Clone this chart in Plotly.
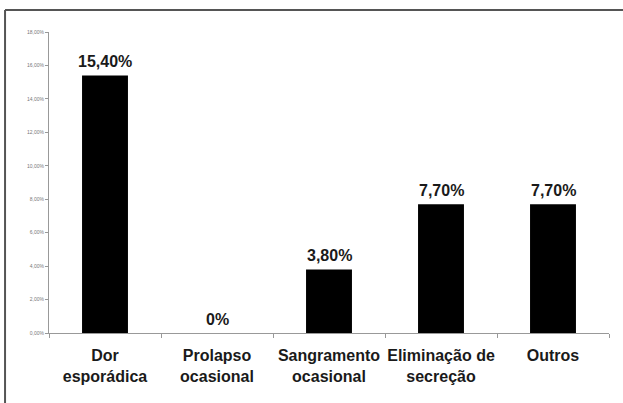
import plotly.graph_objects as go

categories = ["Dor<br>esporádica", "Prolapso<br>ocasional", "Sangramento<br>ocasional",
              "Eliminação de<br>secreção", "Outros"]
values = [15.4, 0.0, 3.8, 7.7, 7.7]
labels = ["15,40%", "0%", "3,80%", "7,70%", "7,70%"]
tick_vals = [0, 2, 4, 6, 8, 10, 12, 14, 16, 18]
tick_text = [f"{v:.2f}%".replace(".", ",") for v in tick_vals]

FONT = "Arial, Liberation Sans, sans-serif"
FRAME = dict(color="#555555", width=2)

fig = go.Figure(go.Bar(
    x=categories, y=values, marker=dict(color="#000000", line=dict(width=0)),
))

# value labels above the bars
for cat, val, lab in zip(categories, values, labels):
    fig.add_annotation(x=cat, y=val, text=lab, showarrow=False,
                       yanchor="bottom", yshift=3,
                       font=dict(size=16, color="#1a1a1a", family=FONT, weight="bold"))

fig.update_layout(
    width=623, height=403,
    paper_bgcolor="white", plot_bgcolor="white",
    margin=dict(l=49, r=14, t=32, b=70, autoexpand=False),
    showlegend=False, bargap=0.59,
    font=dict(family=FONT, color="#1a1a1a"),
    xaxis=dict(
        showgrid=False, showline=True, linecolor="#999999", linewidth=1,
        ticks="outside", tickson="boundaries", ticklen=4, tickcolor="#999999",
        tickangle=0, automargin=False,
        tickfont=dict(size=16, color="#1a1a1a", weight="bold"), ticklabelstandoff=8,
    ),
    yaxis=dict(
        range=[0, 18], tickvals=tick_vals, ticktext=tick_text,
        showgrid=False, showline=True, linecolor="#999999", linewidth=1,
        ticks="outside", ticklen=3, tickcolor="#999999", automargin=False,
        tickfont=dict(size=5, color="#777777"),
        zeroline=False,
    ),
    shapes=[
        # outer frame of the original figure (only top and left edges visible)
        dict(type="line", xref="paper", yref="paper",
             x0=-0.0785, x1=-0.0785, y0=-0.233, y1=1.0733, line=FRAME),
        dict(type="line", xref="paper", yref="paper",
             x0=-0.0785, x1=1.025, y0=1.0733, y1=1.0733, line=FRAME),
    ],
)

fig.write_html("out.html", config={"displayModeBar": False},
               post_script="document.body.style.margin='0';"
                           "document.documentElement.style.overflow='hidden';")
